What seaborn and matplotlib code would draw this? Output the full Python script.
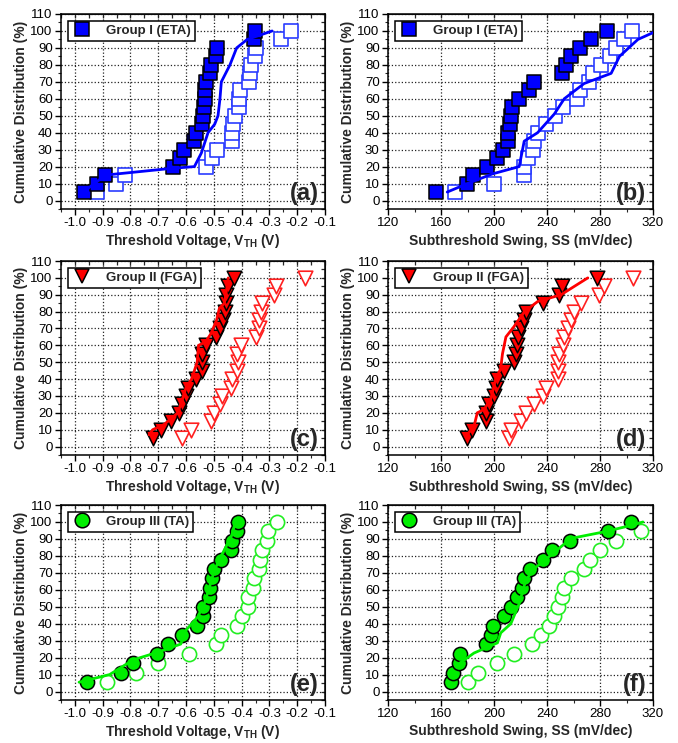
import matplotlib
matplotlib.use('Agg')
import matplotlib.pyplot as plt
from matplotlib.lines import Line2D
from matplotlib.ticker import MultipleLocator, FormatStrFormatter
import seaborn as sns

sns.set_style('white')
plt.rcParams['font.family'] = ['Liberation Sans', 'DejaVu Sans']
plt.rcParams['axes.unicode_minus'] = False
plt.rcParams['mathtext.fontset'] = 'custom'
plt.rcParams['mathtext.rm'] = 'Liberation Sans'
plt.rcParams['mathtext.bf'] = 'Liberation Sans:bold'

# cumulative levels (%)
cdf_20 = [5, 10, 15, 20, 25, 30, 35, 40, 45, 50, 55, 60, 65, 70, 75, 80, 85, 90, 95, 100]
cdf_18 = [5.6, 11.1, 16.7, 22.2, 27.8, 33.3, 38.9, 44.4, 50.0, 55.6, 61.1, 66.7, 72.2, 77.8, 83.3, 88.9, 94.4, 100.0]

# Group I (ETA)
eta_vth_filled = [-0.966, -0.922, -0.891, -0.646, -0.623, -0.607, -0.570, -0.564, -0.542, -0.540,
                  -0.535, -0.531, -0.531, -0.527, -0.513, -0.509, -0.494, -0.490, -0.354, -0.352]
eta_vth_open = [-0.922, -0.853, -0.820, -0.527, -0.505, -0.490, -0.436, -0.433, -0.430, -0.424,
                -0.410, -0.409, -0.405, -0.372, -0.369, -0.365, -0.352, -0.348, -0.258, -0.223]
eta_vth_line_x = [-0.97, -0.89, -0.65, -0.57, -0.545, -0.521, -0.497, -0.485, -0.478, -0.473, -0.442, -0.418, -0.38, -0.29]
eta_vth_line_y = [5, 15, 19, 20, 28, 40, 45, 50, 60, 70, 80, 90, 95, 100]

eta_ss_filled = [155.9, 179.8, 184.1, 195.0, 202.6, 206.9, 210.2, 210.2, 212.2, 212.7,
                 213.9, 219.0, 226.6, 230.4, 251.0, 254.3, 258.1, 265.0, 273.3, 285.4]
eta_ss_open = [170.3, 200.0, 222.3, 222.8, 225.8, 229.8, 230.4, 232.9, 239.2, 246.0,
               252.0, 262.4, 265.2, 272.0, 274.5, 280.9, 287.9, 291.7, 298.0, 304.0]
eta_ss_line_x = [164.7, 180, 198.8, 219, 222.8, 232.9, 245.5, 253, 268, 288.4, 294.7, 308.6, 320]
eta_ss_line_y = [5, 10, 15.7, 20, 35, 40, 51, 60, 69, 75, 85, 95, 99]

# Group II (FGA)
fga_vth_filled = [-0.720, -0.689, -0.653, -0.625, -0.613, -0.601, -0.592, -0.564, -0.542, -0.542,
                  -0.541, -0.527, -0.494, -0.479, -0.466, -0.460, -0.458, -0.458, -0.448, -0.426]
fga_vth_open = [-0.613, -0.582, -0.512, -0.499, -0.479, -0.470, -0.438, -0.436, -0.418, -0.414,
                -0.415, -0.402, -0.350, -0.338, -0.336, -0.332, -0.326, -0.283, -0.275, -0.173]
fga_vth_line_x = [-0.733, -0.72, -0.68, -0.65, -0.63, -0.615, -0.60, -0.58, -0.56, -0.555, -0.53, -0.51, -0.49, -0.48, -0.462, -0.455, -0.448]
fga_vth_line_y = [7, 10, 13, 17, 20, 27, 35, 40, 50, 60, 62, 67, 75, 82, 85, 92, 100]

fga_ss_filled = [179.8, 183.6, 193.7, 194.2, 196.3, 200.1, 201.3, 202.1, 207.6, 215.2,
                 216.5, 217.2, 218.2, 220.3, 222.8, 224.0, 236.7, 249.3, 251.1, 277.8]
fga_ss_open = [211.4, 213.2, 220.3, 224.0, 230.4, 237.2, 239.2, 248.0, 248.0, 248.5,
               249.3, 251.8, 252.6, 255.6, 258.1, 260.2, 265.7, 279.6, 282.9, 304.8]
fga_ss_line_x = [178.6, 184.9, 187.4, 192.5, 197.5, 201.3, 205, 206.4, 209, 215, 223, 233, 250.6, 270.8]
fga_ss_line_y = [6, 12, 20, 22, 28, 40, 46, 55, 65, 71, 80, 86, 90, 100]

# Group III (TA)
ta_vth_filled = [-0.955, -0.833, -0.792, -0.705, -0.664, -0.615, -0.562, -0.540, -0.540,
                 -0.519, -0.513, -0.507, -0.501, -0.475, -0.438, -0.436, -0.418, -0.414]
ta_vth_open = [-0.884, -0.781, -0.701, -0.591, -0.491, -0.476, -0.418, -0.399, -0.377,
               -0.377, -0.360, -0.357, -0.338, -0.334, -0.328, -0.310, -0.305, -0.273]
ta_vth_line_x = [-0.985, -0.875, -0.79, -0.705, -0.619, -0.601, -0.558, -0.534, -0.515, -0.497, -0.473, -0.436, -0.424]
ta_vth_line_y = [5.5, 10, 18.7, 23, 28, 36, 44, 52, 62, 72, 80, 92, 99]

ta_ss_filled = [167.2, 169.2, 173.5, 174.0, 193.7, 198.0, 199.3, 207.6, 212.7,
                217.2, 221.0, 222.8, 227.1, 236.7, 243.5, 257.6, 286.4, 303.6]
ta_ss_open = [180.4, 188.2, 202.1, 215.2, 228.6, 235.4, 241.7, 245.0, 248.0,
              251.0, 253.0, 258.1, 268.2, 272.5, 280.1, 291.7, 311.2]
ta_ss_line_x = [171, 184.9, 202.6, 205.1, 212.7, 219, 224, 230.4, 242.9, 258.1, 283.4, 303.6, 312.4]
ta_ss_line_y = [15, 22.7, 28.7, 34.6, 40, 51.8, 65.6, 72.5, 80.4, 90.3, 94.2, 98, 100]

vth_label = r'Threshold Voltage, V$_{\mathbf{TH}}$ (V)'
ss_label = 'Subthreshold Swing, SS (mV/dec)'

W, H = 678, 743
fig = plt.figure(figsize=(W / 100, H / 100), dpi=100)


def rect(x0, y0, x1, y1):
    return [x0 / W, 1 - y1 / H, (x1 - x0) / W, (y1 - y0) / H]


def draw_panel(ax, kind, yf, xf, yo, xo, lx, ly, color, open_color, marker, size, label, tag):
    sns.scatterplot(x=xo, y=yo, ax=ax, marker=marker, s=size, color='white',
                    edgecolor=open_color, linewidth=1.2, zorder=3)
    sns.scatterplot(x=xf, y=yf, ax=ax, marker=marker, s=size, color=color,
                    edgecolor='black', linewidth=1.1, zorder=4)
    sns.lineplot(x=lx, y=ly, ax=ax, sort=False, estimator=None, color=color,
                 linewidth=2, zorder=5)

    if kind == 'vth':
        ax.set_xlim(-1.05, -0.1)
        ax.xaxis.set_major_locator(MultipleLocator(0.1))
        ax.xaxis.set_minor_locator(MultipleLocator(0.05))
        ax.xaxis.set_major_formatter(FormatStrFormatter('%.1f'))
        ax.set_xlabel(vth_label, fontsize=10, fontweight='bold', labelpad=2)
    else:
        ax.set_xlim(120, 320)
        ax.xaxis.set_major_locator(MultipleLocator(40))
        ax.xaxis.set_minor_locator(MultipleLocator(20))
        ax.set_xlabel(ss_label, fontsize=10, fontweight='bold', labelpad=3)
    ax.set_ylim(-5, 110)
    ax.yaxis.set_major_locator(MultipleLocator(10))
    ax.yaxis.set_minor_locator(MultipleLocator(5))
    ax.set_ylabel('Cumulative Distribution (%)', fontsize=10, fontweight='bold', labelpad=2)

    ax.grid(True, which='major', linestyle=':', color='#222222', linewidth=0.9)
    for s in ax.spines.values():
        s.set_visible(True)
        s.set_color('black')
        s.set_linewidth(1.1)
    ax.tick_params(which='major', direction='out', length=4, width=1, labelsize=9.5, pad=2,
                   bottom=True, left=True, colors='black')
    ax.tick_params(which='minor', direction='out', length=2.5, width=0.8, bottom=True, left=True)

    # inward ticks on top and right
    top = ax.secondary_xaxis('top')
    top.xaxis.set_major_locator(ax.xaxis.get_major_locator())
    top.xaxis.set_minor_locator(ax.xaxis.get_minor_locator())
    top.tick_params(which='both', direction='in', labeltop=False, length=3, width=0.9)
    right = ax.secondary_yaxis('right')
    right.yaxis.set_major_locator(MultipleLocator(10))
    right.yaxis.set_minor_locator(MultipleLocator(5))
    right.tick_params(which='both', direction='in', labelright=False, length=3, width=0.9)

    handle = Line2D([], [], marker=marker, linestyle='none', markersize=10.5,
                    markerfacecolor=color, markeredgecolor='black', markeredgewidth=1.1)
    leg = ax.legend(handles=[handle], labels=[label], loc='upper left',
                    prop={'weight': 'bold', 'size': 9.5}, fancybox=False, framealpha=1,
                    edgecolor='black', borderaxespad=0.5, handletextpad=1.0,
                    borderpad=0.3, handlelength=1.6)
    leg.get_frame().set_linewidth(1.1)
    ax.text(0.975, 0.02, tag, transform=ax.transAxes, ha='right', va='bottom',
            fontsize=17, fontweight='bold')


blue, blue_open = '#0000ff', '#2a3cff'
red, red_open = '#ff0000', '#ff2020'
green, green_open = '#00ee00', '#22ee22'

panels = [
    (rect(61, 14, 325, 209), 'vth', cdf_20, eta_vth_filled, cdf_20, eta_vth_open,
     eta_vth_line_x, eta_vth_line_y, blue, blue_open, 's', 95, 'Group I (ETA)', '(a)'),
    (rect(388, 14, 653, 209), 'ss', cdf_20, eta_ss_filled, cdf_20, eta_ss_open,
     eta_ss_line_x, eta_ss_line_y, blue, blue_open, 's', 95, 'Group I (ETA)', '(b)'),
    (rect(61, 261, 325, 455), 'vth', cdf_20, fga_vth_filled, cdf_20, fga_vth_open,
     fga_vth_line_x, fga_vth_line_y, red, red_open, 'v', 110, 'Group II (FGA)', '(c)'),
    (rect(388, 261, 653, 455), 'ss', cdf_20, fga_ss_filled, cdf_20, fga_ss_open,
     fga_ss_line_x, fga_ss_line_y, red, red_open, 'v', 110, 'Group II (FGA)', '(d)'),
    (rect(61, 505, 325, 700), 'vth', cdf_18, ta_vth_filled, cdf_18, ta_vth_open,
     ta_vth_line_x, ta_vth_line_y, green, green_open, 'o', 105, 'Group III (TA)', '(e)'),
    (rect(388, 505, 653, 700), 'ss', cdf_18, ta_ss_filled, cdf_18[:len(ta_ss_open)], ta_ss_open,
     ta_ss_line_x, ta_ss_line_y, green, green_open, 'o', 105, 'Group III (TA)', '(f)'),
]

for p in panels:
    ax = fig.add_axes(p[0])
    draw_panel(ax, *p[1:])

fig.savefig('out.png', dpi=100)
